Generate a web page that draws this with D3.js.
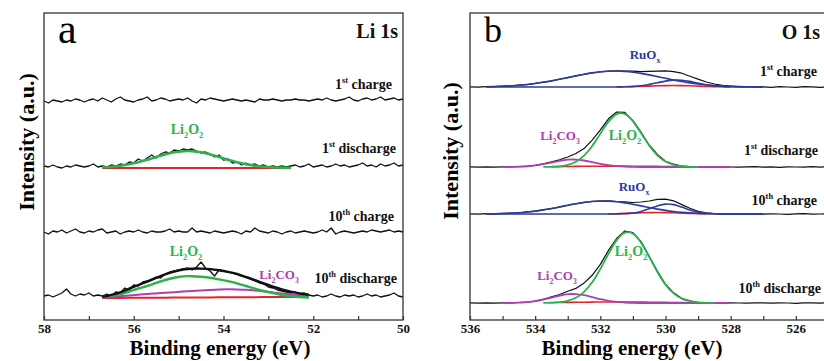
<!DOCTYPE html>
<html>
<head>
<meta charset="utf-8">
<script src="https://cdn.jsdelivr.net/npm/d3@7"></script>
<style>
  body { margin: 0; background: #fff; }
  text { font-family: "Liberation Serif", "Times New Roman", serif; }
</style>
</head>
<body>
<div id="vis"></div>
<script>
const width = 824;
const height = 361;

// ---------- panel a : Li 1s ----------
const ticksA = [58, 57, 56, 55, 54, 53, 52, 51, 50];
// raw scans, 58.0 -> 50.0 eV every 0.1 eV (a.u. above each trace's base)
const energyA = d3.range(0, 81).map(i => 58 - i * 0.1);
const rawA_1charge = [-1, -3, 0, -1, -2, 0, -1, 1, 0, -2, 0, 1, -1, 2, 0, -2, 1, 3, 0, -1,
  -2, 0, 1, 3, -1, 0, 2, 1, -1, 0, 1, 0, 2, -1, -3, 1, 0, 2, 1, 0,
  -1, 0, 1, 0, -1, 0, -1, -2, 1, 0, 0, 1, 0, -1, 0, 0, 1, 0, 0, -1,
  0, 1, 0, 2, 0, -1, 0, 1, 3, 0, -1, 1, 2, 0, 1, 3, 0, 1, 2, 0, 1];
const rawA_1discharge = [2, 1, 3, 1, 0, 2, 1, 3, 2, 1, 2, 4, 1,
  2, 1, 3, 2, 4, 3, 6, 5, 9, 7, 10, 13, 10, 14, 16, 15, 18, 17, 19, 18, 19, 17, 15, 16, 14, 11, 13, 8, 9, 5,
  6, 3, 5, 3, 4, 2, 3, 1, 2, 1, 2, 1, 2,
  3, 1, 2, 4, 1, 2, 3, 1, 2, 4, 2, 3, 1, 2, 3, 5, 2, 3, 1, 4, 2, 3, 5, 2, 3];
const rawA_10charge = [0, -2, 1, 0, 2, -1, 1, 3, 0, -1, 1, 0, 2, 3, -1, 0, 1, -2, 0, 1,
  0, 2, 0, -1, 1, 0, 0, 1, 3, 0, 1, 0, 0, 4, 0, 1, 0, -1, 1, 0,
  -1, 0, 1, 0, -2, 1, 0, 4, 1, 0, -1, 1, 0, -2, 0, 1, -1, 0, 1, 0,
  -1, 0, 2, 0, 4, -2, 0, 1, 0, -1, 0, 1, 0, 2, 1, 0, 1, 2, 0, 1, 0];
const rawA_10discharge = [2, 3, 1, 3, 5, 9, 4, 2, 4, 3, 5, 2, 3, 2,
  4, 2, 6, 5, 10, 8, 13, 12, 16, 17, 19, 21, 20, 24, 26, 27, 28, 29, 30, 28,
  31, 36, 30, 27, 22, 28, 27, 26, 25, 24, 22, 21, 19, 17, 15, 14, 11, 10, 8, 7,
  6, 5, 6, 4, 5, 3,
  2, 3, 1, 2, 4, 2, 1, 3, 2, 3, 1, 2, 4, 2, 3, 1, 2, 3, 5, 2, 1];
// fitted components, 56.7 -> 52.1 eV every 0.2 eV
const fitEnergyA = d3.range(0, 24).map(i => 56.7 - i * 0.2);
const greenA_1discharge = [0.7, 1.3, 2.3, 3.8, 5.8, 8.3, 11.0, 13.6, 15.7, 16.8, 16.8, 15.7,
  13.6, 11.0, 8.3, 5.8, 3.8, 2.3, 1.3, 0.7, 0.4, 0.2, null, null];
const redA_1discharge = [0, 0, 0, 0, 0, 0, 0, 0, 0, 0, 0, 0, 0, 0, 0, 0, 0, 0, 0, 0, 0, 0, null, null];
const greenA_10discharge = [0.8, 2.0, 3.8, 6.5, 9.5, 12.0, 15.2, 18.0, 20.2, 21.6, 21.8, 21.2,
  20.2, 18.6, 16.8, 14.6, 12.0, 9.4, 7.0, 4.8, 3.0, 1.8, 1.0, 0.5];
const purpleA_10discharge = [0.3, 1.0, 1.8, 2.6, 3.3, 4.0, 4.6, 5.2, 5.8, 6.4, 7.0, 7.6,
  8.1, 8.5, 8.7, 8.6, 8.2, 7.5, 6.6, 5.6, 4.5, 3.4, 2.4, 1.5];
const redA_10discharge = [0, 0.05, 0.1, 0.15, 0.2, 0.25, 0.3, 0.35, 0.4, 0.45, 0.5, 0.55,
  0.6, 0.65, 0.7, 0.75, 0.8, 0.85, 0.9, 0.95, 1.0, 1.05, 1.1, 1.15];
const envA_10discharge = [1.1, 3.1, 5.7, 9.3, 13.0, 16.3, 20.1, 23.6, 26.4, 28.5, 29.3, 29.4,
  28.9, 27.8, 26.2, 24.0, 21.0, 17.8, 14.5, 11.4, 8.5, 6.3, 4.5, 3.2];
// vertical offsets of the stacked scans: 1st charge, 1st discharge, 10th charge, 10th discharge
const offsetA = [220, 152, 88, 22];

// ---------- panel b : O 1s ----------
const ticksB = [536, 535, 534, 533, 532, 531, 530, 529, 528, 527, 526];
// raw scans, 536 -> 524 eV every 0.25 eV
const energyB = d3.range(0, 49).map(i => 536 - i * 0.25);
const rawB_1charge = [0.2, -0.2, 0.4, 0.4, 1.0, 1.1, 1.8, 2.4, 3.6, 4.8, 6.0, 7.8, 9.3, 11.2, 12.6,
  14.2, 15.1, 15.9, 16.2, 16.0, 15.8, 15.4, 15.7, 15.9, 16.1, 15.3, 13.8, 10.8, 7.9, 5.0, 3.0,
  1.6, 1.0, 0.3, 0.4, 0.0, 0.2, -0.3, 0.3, 0.0, -0.4, 0.3, 0.2, -0.3, 0.0, 0.4, -0.2, 0.1, 0.0];
const rawB_1discharge = [0.1, -0.2, 0.2, -0.1, 0.2, 0.1, 0.4, 0.8, 1.7, 3.1, 5.1, 7.2, 10.0, 13.5,
  18.4, 26.9, 37.1, 48.2, 55.0, 54.6, 46.4, 34.8, 22.0, 12.5, 5.8, 2.8, 1.0, 0.4, 0.0, 0.2,
  -0.1, 0.2, 0.0, -0.2, 0.1, 0.3, -0.1, 0.2, -0.3, 0.1, 0.0, -0.2, 0.3, -0.1, 0.2, -0.3, 0.1, 0.0, 0.2];
const rawB_10charge = [0.2, -0.1, 0.3, 0.2, 0.6, 0.9, 1.2, 2.1, 2.8, 4.2, 5.4, 7.1, 8.6, 10.3, 11.5,
  12.6, 12.9, 13.1, 12.5, 12.1, 11.5, 12.0, 13.0, 14.6, 14.8, 13.2, 9.4, 5.8, 2.7, 1.2, 0.3,
  0.2, 0.0, -0.2, 0.2, 0.1, -0.1, 0.2, 0.0, -0.3, 0.1, 0.3, -0.2, 0.0, 0.2, -0.1, 0.3, 0.0, -0.2];
const rawB_10discharge = [0.1, -0.2, 0.2, -0.1, 0.1, 0.2, 0.5, 0.9, 2.0, 3.6, 6.1, 8.5, 11.8, 14.6,
  19.9, 27.7, 38.6, 52.6, 64.5, 72.0, 70.3, 61.4, 46.7, 31.9, 18.8, 10.2, 4.6, 2.2, 0.7, 0.3,
  0.1, -0.1, 0.2, 0.0, -0.2, 0.1, 0.2, -0.1, 0.2, 0.0, -0.3, 0.2, 0.1, -0.2, 0.3, 0.0, -0.1, 0.2, 0.0];
// fitted components, 535.5 -> 527.0 eV every 0.25 eV
const fitEnergyB = d3.range(0, 35).map(i => 535.5 - i * 0.25);
const blueB_1charge_a = [0.3, 0.5, 0.8, 1.2, 1.7, 2.5, 3.5, 4.7, 6.1, 7.7, 9.4, 11.1, 12.7, 14.1,
  15.2, 15.8, 16.0, 15.6, 14.8, 13.6, 12.1, 10.4, 8.7, 7.0, 5.5, 4.1, 3.0, 2.2, 1.5, 1.0, 0.6,
  0.4, 0.25, 0.15, 0.1];
const blueB_1charge_b = [0, 0, 0, 0, 0, 0, 0, 0, 0, 0, 0, 0, 0, 0, 0, 0, 0,
  0.2, 0.6, 1.3, 2.6, 4.2, 5.9, 6.9, 6.8, 5.6, 3.9, 2.3, 1.1, 0.5, 0.2, 0, 0, 0, 0];
const redB_1charge = [null, null, null, null, null, null, null, null, null, null, null, null, null,
  null, null, null, 0.1, 0.2, 0.3, 0.6, 0.9, 1.2, 1.4, 1.5, 1.4, 1.2, 0.9, 0.6, 0.3, 0.2, 0.1,
  null, null, null, null];
const greenB_1discharge = [null, null, null, null, null, null, null, 0.05, 0.2, 0.7, 2.1, 5.3, 11.4,
  21.0, 33.3, 45.3, 52.9, 53.1, 45.7, 33.8, 21.5, 11.7, 5.5, 2.2, 0.8, 0.2, 0.05,
  null, null, null, null, null, null, null, null];
const purpleB_1discharge = [null, null, 0.03, 0.1, 0.3, 0.7, 1.6, 2.9, 4.5, 6.2, 7.3, 7.4, 6.5, 4.9,
  3.2, 1.8, 0.9, 0.4, 0.1, 0, 0, 0, 0, 0, 0, 0, 0, 0, 0, 0, 0, null, null, null, null];
const redB_1discharge = [null, null, null, null, null, null, null, null, 0.3, 0.4, 0.5, 0.6, 0.7,
  0.8, 0.8, 0.9, 0.9, 0.9, 0.8, 0.8, 0.7, 0.6, 0.5, 0.4, 0.3,
  null, null, null, null, null, null, null, null, null, null];
const blueB_10charge_a = [0.15, 0.3, 0.5, 0.8, 1.3, 2.0, 2.9, 4.1, 5.5, 7.0, 8.7, 10.2, 11.6, 12.5,
  13.0, 12.9, 12.2, 11.1, 9.7, 8.1, 6.5, 4.9, 3.6, 2.5, 1.7, 1.1, 0.7, 0.4, 0.2, 0.1, 0.05,
  0, 0, 0, 0];
const blueB_10charge_b = [0, 0, 0, 0, 0, 0, 0, 0, 0, 0, 0, 0, 0, 0, 0, 0,
  0.07, 0.3, 1.0, 2.6, 5.2, 8.1, 9.9, 9.4, 6.9, 4.0, 1.8, 0.6, 0.2, 0.04, 0, 0, 0, 0, 0];
const redB_10charge = [null, null, null, null, null, null, null, null, null, null, null, null, null,
  null, null, 0.1, 0.3, 0.6, 0.9, 1.2, 1.4, 1.5, 1.4, 1.2, 0.9, 0.6, 0.3, 0.1,
  null, null, null, null, null, null, null];
const greenB_10discharge = [null, null, null, null, null, null, null, 0.07, 0.25, 0.8, 2.2, 5.2, 11.1,
  20.7, 34.0, 49.2, 62.6, 70.3, 69.4, 60.3, 46.1, 31.1, 18.4, 9.6, 4.4, 1.8, 0.6, 0.2, 0.05,
  null, null, null, null, null, null];
const purpleB_10discharge = [null, null, 0.04, 0.1, 0.4, 0.8, 1.9, 3.5, 5.4, 7.4, 8.8, 8.9, 7.8, 5.9,
  3.8, 2.2, 1.1, 0.5, 0.1, 0, 0, 0, 0, 0, 0, 0, 0, 0, 0, 0, 0, null, null, null, null];
const redB_10discharge = [null, null, null, null, null, null, null, null, 0.3, 0.5, 0.6, 0.7, 0.8,
  0.9, 1.0, 1.0, 1.0, 1.0, 1.0, 0.9, 0.8, 0.7, 0.6, 0.5, 0.4, 0.3, 0.2,
  null, null, null, null, null, null, null, null];
const offsetB = [233, 153, 106, 17];

const BLACK = "#111", GREEN = "#2bb24c", PURPLE = "#ad3fae", BLUE = "#2e3a9e", RED = "#e0262b";

window.onload = function () {
  svg = d3.select("#vis").append("svg")
    .attr("width", width)
    .attr("height", height);

  const yS = d3.scaleLinear().domain([0, 307]).range([320, 13]);
  const xA = d3.scaleLinear().domain([58, 50]).range([44, 403]);
  const xB = d3.scaleLinear().domain([536, 524]).range([470, 861]);

  // panel a
  const gA = svg.append("g");
  drawLine(gA, xA, yS, energyA, rawA_1charge, offsetA[0], BLACK, 1.3, false);
  drawLine(gA, xA, yS, energyA, rawA_1discharge, offsetA[1], BLACK, 1.3, false);
  drawLine(gA, xA, yS, fitEnergyA, redA_1discharge, offsetA[1], RED, 2, true);
  drawLine(gA, xA, yS, fitEnergyA, greenA_1discharge, offsetA[1], GREEN, 2.6, true);
  drawLine(gA, xA, yS, energyA, rawA_10charge, offsetA[2], BLACK, 1.3, false);
  drawLine(gA, xA, yS, energyA, rawA_10discharge, offsetA[3], BLACK, 1.3, false);
  drawLine(gA, xA, yS, fitEnergyA, redA_10discharge, offsetA[3], RED, 2, true);
  drawLine(gA, xA, yS, fitEnergyA, purpleA_10discharge, offsetA[3], PURPLE, 2, true);
  drawLine(gA, xA, yS, fitEnergyA, greenA_10discharge, offsetA[3], GREEN, 2.4, true);
  drawLine(gA, xA, yS, fitEnergyA, envA_10discharge, offsetA[3], BLACK, 2.4, true);

  frameAndAxis(gA, xA, ticksA, 44, 403);

  gA.append("text").attr("x", 58).attr("y", 43).style("font-size", "42px").text("a");
  label(gA, 398, 38, [["Li 1s"]], { anchor: "end", size: 20 });
  label(gA, 392, 89, [["1"], ["st", "sup"], [" charge"]], { anchor: "end", size: 14 });
  label(gA, 396, 153, [["1"], ["st", "sup"], [" discharge"]], { anchor: "end", size: 14 });
  label(gA, 394, 221, [["10"], ["th", "sup"], [" charge"]], { anchor: "end", size: 14 });
  label(gA, 397, 283, [["10"], ["th", "sup"], [" discharge"]], { anchor: "end", size: 14 });
  label(gA, 187, 134, [["Li"], ["2", "sub"], ["O"], ["2", "sub"]], { anchor: "middle", size: 14, color: GREEN });
  label(gA, 186, 256, [["Li"], ["2", "sub"], ["O"], ["2", "sub"]], { anchor: "middle", size: 14, color: GREEN });
  label(gA, 279, 279, [["Li"], ["2", "sub"], ["CO"], ["3", "sub"]], { anchor: "middle", size: 13, color: PURPLE });

  gA.append("text").attr("transform", "translate(34,142) rotate(-90)")
    .attr("text-anchor", "middle").style("font-size", "22px").style("font-weight", "bold")
    .text("Intensity (a.u.)");
  gA.append("text").attr("x", 220).attr("y", 355).attr("text-anchor", "middle")
    .style("font-size", "21px").style("font-weight", "bold").text("Binding energy (eV)");

  // panel b
  const gB = svg.append("g");
  const rawB = [rawB_1charge, rawB_1discharge, rawB_10charge, rawB_10discharge];
  rawB.forEach((r, i) => drawLine(gB, xB, yS, energyB, r, offsetB[i], BLACK, 1.2, false));

  drawLine(gB, xB, yS, fitEnergyB, redB_1charge, offsetB[0], RED, 1.6, true);
  drawLine(gB, xB, yS, fitEnergyB, blueB_1charge_a, offsetB[0], BLUE, 1.6, true);
  drawLine(gB, xB, yS, fitEnergyB, blueB_1charge_b, offsetB[0], BLUE, 1.6, true);

  drawLine(gB, xB, yS, fitEnergyB, redB_1discharge, offsetB[1], RED, 1.6, true);
  drawLine(gB, xB, yS, fitEnergyB, purpleB_1discharge, offsetB[1], PURPLE, 1.8, true);
  drawLine(gB, xB, yS, fitEnergyB, greenB_1discharge, offsetB[1], GREEN, 1.8, true);

  drawLine(gB, xB, yS, fitEnergyB, redB_10charge, offsetB[2], RED, 1.6, true);
  drawLine(gB, xB, yS, fitEnergyB, blueB_10charge_a, offsetB[2], BLUE, 1.6, true);
  drawLine(gB, xB, yS, fitEnergyB, blueB_10charge_b, offsetB[2], BLUE, 1.6, true);

  drawLine(gB, xB, yS, fitEnergyB, redB_10discharge, offsetB[3], RED, 1.6, true);
  drawLine(gB, xB, yS, fitEnergyB, purpleB_10discharge, offsetB[3], PURPLE, 1.8, true);
  drawLine(gB, xB, yS, fitEnergyB, greenB_10discharge, offsetB[3], GREEN, 1.8, true);

  frameAndAxis(gB, xB, ticksB, 470, 861);

  gB.append("text").attr("x", 484).attr("y", 42).style("font-size", "36px").text("b");
  label(gB, 820, 39, [["O 1s"]], { anchor: "end", size: 20 });
  label(gB, 817, 76, [["1"], ["st", "sup"], [" charge"]], { anchor: "end", size: 14 });
  label(gB, 818, 155, [["1"], ["st", "sup"], [" discharge"]], { anchor: "end", size: 14 });
  label(gB, 817, 205, [["10"], ["th", "sup"], [" charge"]], { anchor: "end", size: 14 });
  label(gB, 821, 293, [["10"], ["th", "sup"], [" discharge"]], { anchor: "end", size: 14 });
  label(gB, 645, 59, [["RuO"], ["x", "sub"]], { anchor: "middle", size: 13, color: BLUE });
  label(gB, 634, 191, [["RuO"], ["x", "sub"]], { anchor: "middle", size: 13, color: BLUE });
  label(gB, 560, 140, [["Li"], ["2", "sub"], ["CO"], ["3", "sub"]], { anchor: "middle", size: 13, color: PURPLE });
  label(gB, 625, 140, [["Li"], ["2", "sub"], ["O"], ["2", "sub"]], { anchor: "middle", size: 14, color: GREEN });
  label(gB, 557, 280, [["Li"], ["2", "sub"], ["CO"], ["3", "sub"]], { anchor: "middle", size: 13, color: PURPLE });
  label(gB, 631, 256, [["Li"], ["2", "sub"], ["O"], ["2", "sub"]], { anchor: "middle", size: 14, color: GREEN });

  gB.append("text").attr("transform", "translate(458,151) rotate(-90)")
    .attr("text-anchor", "middle").style("font-size", "22px").style("font-weight", "bold")
    .text("Intensity (a.u.)");
  gB.append("text").attr("x", 632).attr("y", 355).attr("text-anchor", "middle")
    .style("font-size", "21px").style("font-weight", "bold").text("Binding energy (eV)");
};

function drawLine(g, x, y, energies, values, offset, color, w, smooth) {
  const pts = energies.map((e, i) => [e, values[i]]);
  const line = d3.line()
    .defined(d => d[1] !== null && d[1] !== undefined)
    .x(d => x(d[0]))
    .y(d => y(d[1] + offset))
    .curve(smooth ? d3.curveCatmullRom : d3.curveLinear);
  g.append("path").datum(pts)
    .attr("d", line)
    .attr("fill", "none")
    .attr("stroke", color)
    .attr("stroke-width", w)
    .attr("stroke-linejoin", "round");
}

function frameAndAxis(g, x, ticks, x0, x1) {
  g.append("rect")
    .attr("x", x0).attr("y", 13)
    .attr("width", x1 - x0).attr("height", 307)
    .attr("fill", "none").attr("stroke", "#333").attr("stroke-width", 1.3);

  const axis = d3.axisBottom(x)
    .tickValues(ticks)
    .tickSizeInner(-4).tickSizeOuter(0).tickPadding(4)
    .tickFormat(d => d % 2 === 0 ? d : "");
  g.append("g").attr("transform", "translate(0,320)")
    .call(axis)
    .call(a => a.select(".domain").remove())
    .call(a => a.selectAll("line").attr("stroke", "#333").attr("stroke-width", 1.2))
    .call(a => a.selectAll("text")
      .style("font-family", '"Liberation Serif", "Times New Roman", serif')
      .style("font-size", "13px").style("font-weight", "bold").attr("fill", "#111"));
}

// text with superscripts / subscripts
function label(g, x, y, parts, opts) {
  const size = opts.size;
  const t = g.append("text")
    .attr("x", x).attr("y", y)
    .attr("text-anchor", opts.anchor || "start")
    .attr("fill", opts.color || BLACK)
    .style("font-size", size + "px")
    .style("font-weight", "bold");
  let shift = 0;
  parts.forEach(p => {
    const kind = p[1];
    const target = kind === "sup" ? -0.42 * size : kind === "sub" ? 0.28 * size : 0;
    t.append("tspan")
      .attr("dy", target - shift)
      .style("font-size", kind ? (0.6 * size) + "px" : size + "px")
      .text(p[0]);
    shift = target;
  });
}
</script>
</body>
</html>
